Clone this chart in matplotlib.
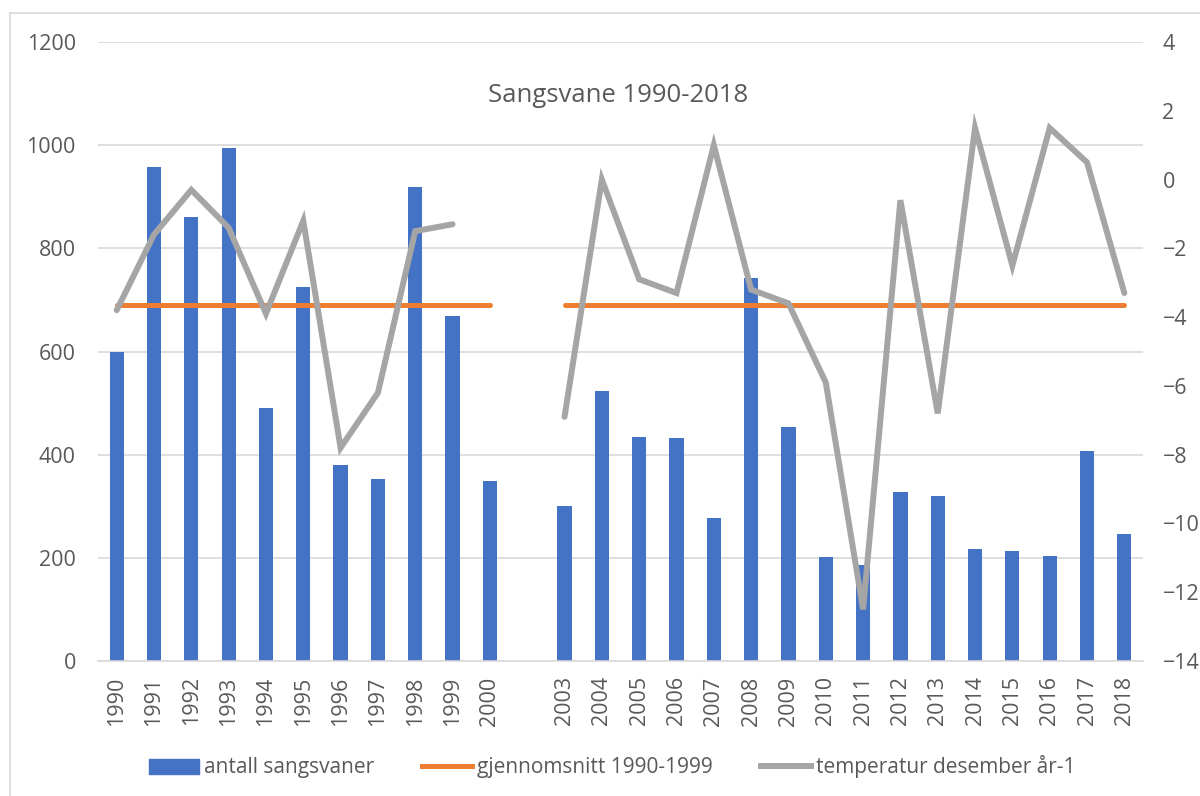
import numpy as np
import matplotlib
matplotlib.use("Agg")
import matplotlib.pyplot as plt
from matplotlib.lines import Line2D
from matplotlib.patches import Patch

plt.rcParams['font.family'] = ['Open Sans', 'DejaVu Sans']

nan = np.nan
aar = ['1990', '1991', '1992', '1993', '1994', '1995', '1996', '1997', '1998', '1999', '2000', '',
       '2003', '2004', '2005', '2006', '2007', '2008', '2009', '2010', '2011', '2012', '2013',
       '2014', '2015', '2016', '2017', '2018']
antall = [600, 958, 861, 994, 490, 726, 379, 353, 919, 668, 348, nan,
          301, 524, 434, 433, 277, 742, 454, 201, 186, 327, 320, 217, 214, 204, 408, 247]
snitt = [691] * 11 + [nan] + [691] * 16
temperatur = [-3.8, -1.6, -0.3, -1.4, -3.9, -1.2, -7.8, -6.2, -1.5, -1.3, nan, nan,
              -6.9, 0.0, -2.9, -3.3, 1.0, -3.2, -3.6, -5.9, -12.5, -0.6, -6.8,
              1.5, -2.5, 1.5, 0.5, -3.3]

blaa = '#4472c4'
oransje = '#ed7d31'
graa = '#a5a5a5'
tekst = '#595959'
rutenett = '#d9d9d9'

fig = plt.figure(figsize=(12, 7.96), dpi=100)
ax = fig.add_axes([98/1200, 1-661/796, 1045/1200, 619/796])
ax2 = ax.twinx()

x = np.arange(len(aar))
ax.bar(x, antall, width=0.38, color=blaa, zorder=2)
ax.plot(x, snitt, color=oransje, lw=3.6, solid_capstyle='round', zorder=3)
ax2.plot(x, temperatur, color=graa, lw=4.3, solid_capstyle='round',
         solid_joinstyle='miter', zorder=4)

ax.set_xlim(-0.5, len(aar) - 0.5)
ax.set_ylim(0, 1200)
ax.set_yticks(range(0, 1201, 200))
ax2.set_ylim(-14, 4)
ax2.set_yticks(range(-14, 5, 2))

ax.set_xticks(x)
ax.set_xticklabels(aar, rotation=90)
ax.grid(axis='y', color=rutenett, lw=1.2, zorder=0)
ax.set_axisbelow(True)

for a in (ax, ax2):
    for s in a.spines.values():
        s.set_visible(False)
    a.tick_params(length=0, labelsize=15.5, labelcolor=tekst)
ax.spines['bottom'].set_visible(True)
ax.spines['bottom'].set_color(rutenett)
ax.spines['bottom'].set_linewidth(1.2)
ax.tick_params(axis='y', pad=16)
ax.tick_params(axis='x', pad=11)
ax2.tick_params(axis='y', pad=14)

fig.text(618/1200, 1-95/796, 'Sangsvane 1990-2018', ha='center', va='center',
         fontsize=18.5, color=tekst)

handles = [Patch(color=blaa), Line2D([], [], color=oransje, lw=3.6),
           Line2D([], [], color=graa, lw=4.3)]
labels = ['antall sangsvaner', 'gjennomsnitt 1990-1999', 'temperatur desember år-1']
leg = fig.legend(handles, labels, loc='center', bbox_to_anchor=(0.51, 1-767/796),
                 ncol=3, frameon=False, fontsize=15, labelcolor=tekst,
                 handlelength=2.4, handletextpad=0.25, columnspacing=2.3)

# ramme rundt diagrammet
fig.add_artist(Line2D([10/1200, 10/1200], [0, 1-13/796], transform=fig.transFigure,
                      color=rutenett, lw=1.2))
fig.add_artist(Line2D([10/1200, 1], [1-13/796, 1-13/796], transform=fig.transFigure,
                      color=rutenett, lw=1.2))

fig.savefig('out.png', dpi=100)
